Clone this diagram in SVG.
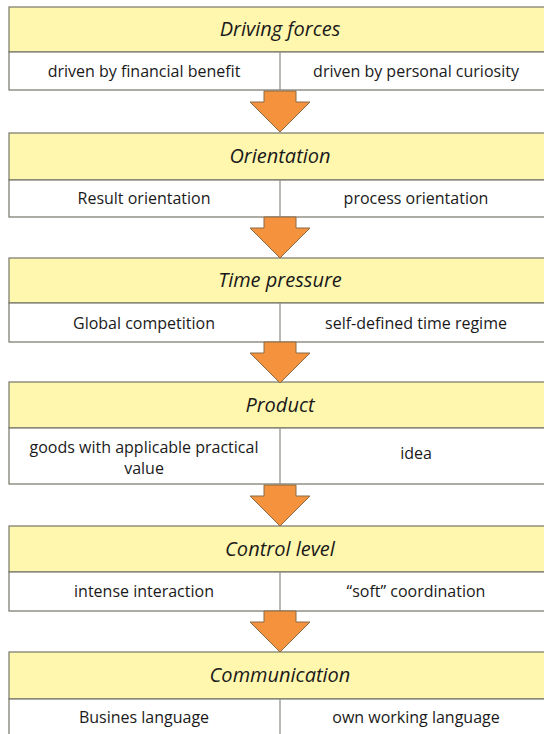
<svg xmlns="http://www.w3.org/2000/svg" width="544" height="734" viewBox="0 0 544 734">
  <style>
    .hd { fill: #FFF7AE; stroke: #76766A; stroke-width: 1.2; }
    .row { fill: #FFFFFF; stroke: #76766A; stroke-width: 1.2; }
    .div { stroke: #8C8C84; stroke-width: 1.2; }
    .title { font-family: "Open Sans", "Noto Sans", sans-serif; font-style: italic; font-size: 20px; fill: #1A1A1A; text-anchor: middle; }
    .cell { font-family: "Open Sans", "Noto Sans", sans-serif; font-size: 16px; fill: #1A1A1A; text-anchor: middle; }
    .arrow { fill: #F5923E; stroke: #8A6A45; stroke-width: 1; stroke-linejoin: miter; }
  </style>
  <defs>
    <!-- downward block arrow, tip at (0,0) relative to its bottom -->
    <path id="down" d="M-16,0 L16,0 L16,11 L30,11 L0,41 L-30,11 L-16,11 Z"/>
  </defs>
  <rect width="544" height="734" fill="#FFFFFF"/>

  <g id="driving-forces">
    <rect class="hd" x="9" y="7" width="545" height="45"/>
    <rect class="row" x="9" y="52" width="545" height="38"/>
    <line class="div" x1="280" y1="52" x2="280" y2="90"/>
    <text class="title" x="280" y="36">Driving forces</text>
    <text class="cell" x="144" y="77">driven by financial benefit</text>
    <text class="cell" x="416" y="77">driven by personal curiosity</text>
  </g>

  <g id="orientation">
    <rect class="hd" x="9" y="133" width="545" height="47"/>
    <rect class="row" x="9" y="180" width="545" height="37"/>
    <line class="div" x1="280" y1="180" x2="280" y2="217"/>
    <text class="title" x="280" y="163">Orientation</text>
    <text class="cell" x="144" y="204">Result orientation</text>
    <text class="cell" x="416" y="204">process orientation</text>
  </g>

  <g id="time-pressure">
    <rect class="hd" x="9" y="258" width="545" height="45"/>
    <rect class="row" x="9" y="303" width="545" height="39"/>
    <line class="div" x1="280" y1="303" x2="280" y2="342"/>
    <text class="title" x="280" y="287">Time pressure</text>
    <text class="cell" x="144" y="329">Global competition</text>
    <text class="cell" x="416" y="329">self-defined time regime</text>
  </g>

  <g id="product">
    <rect class="hd" x="9" y="382" width="545" height="46"/>
    <rect class="row" x="9" y="428" width="545" height="56"/>
    <line class="div" x1="280" y1="428" x2="280" y2="484"/>
    <text class="title" x="280" y="412">Product</text>
    <text class="cell" x="144" y="453">goods with applicable practical</text>
    <text class="cell" x="144" y="474">value</text>
    <text class="cell" x="416" y="459">idea</text>
  </g>

  <g id="control-level">
    <rect class="hd" x="9" y="526" width="545" height="46"/>
    <rect class="row" x="9" y="572" width="545" height="39"/>
    <line class="div" x1="280" y1="572" x2="280" y2="611"/>
    <text class="title" x="280" y="556">Control level</text>
    <text class="cell" x="144" y="597">intense interaction</text>
    <text class="cell" x="416" y="597">“soft” coordination</text>
  </g>

  <g id="communication">
    <rect class="hd" x="9" y="652" width="545" height="47"/>
    <rect class="row" x="9" y="699" width="545" height="45"/>
    <line class="div" x1="280" y1="699" x2="280" y2="744"/>
    <text class="title" x="280" y="682">Communication</text>
    <text class="cell" x="144" y="723">Busines language</text>
    <text class="cell" x="416" y="723">own working language</text>
  </g>

  <g id="connectors">
    <use href="#down" class="arrow" transform="translate(280,91)"/>
    <use href="#down" class="arrow" transform="translate(280,217)"/>
    <use href="#down" class="arrow" transform="translate(280,342)"/>
    <use href="#down" class="arrow" transform="translate(280,485)"/>
    <use href="#down" class="arrow" transform="translate(280,611)"/>
  </g>
</svg>
